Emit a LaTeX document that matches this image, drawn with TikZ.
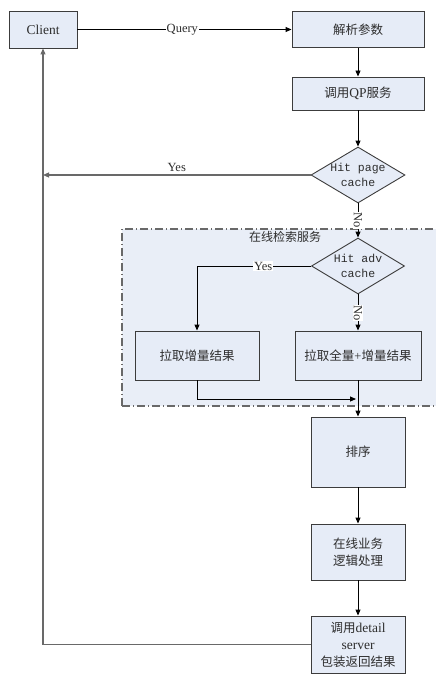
\documentclass[tikz,border=0pt]{standalone}
\usepackage{fontspec}
\setmainfont{Liberation Serif}
\newfontfamily\cjk{Noto Sans CJK SC}
\newfontfamily\monof{Liberation Mono}
\usetikzlibrary{shapes.geometric,arrows.meta}
\definecolor{boxfill}{RGB}{230,236,247}
\definecolor{areafill}{RGB}{233,238,247}
\definecolor{boxline}{RGB}{60,60,60}
\definecolor{txt}{RGB}{45,45,45}
\definecolor{retline}{RGB}{105,105,105}
\tikzset{
  box/.style={draw=boxline, fill=boxfill, line width=0.9pt, inner sep=1pt, align=center, text=txt,
    font=\fontsize{13.5}{17}\selectfont},
  cjkbox/.style={box, font=\cjk\fontsize{12.5}{17}\selectfont},
  decision/.style={diamond, draw=boxline, fill=boxfill, line width=0.9pt, inner sep=-3pt, aspect=1.68,
    align=center, text=txt, font=\monof\fontsize{11.5}{15}\selectfont},
  flow/.style={draw=black, line width=0.9pt, -{Triangle[length=6pt,width=5pt]}},
  retflow/.style={draw=retline, line width=1.1pt, -{Triangle[length=6pt,width=5pt]}},
  lbl/.style={fill=white, inner sep=1pt, text=txt, font=\fontsize{12.5}{14}\selectfont},
  areaedge/.style={draw=retline, line width=1.2pt, dash pattern=on 8pt off 3pt on 1pt off 3pt},
}
\begin{document}
\begin{tikzpicture}[x=1pt,y=-1pt]
\useasboundingbox (0,0) rectangle (436,685);
\clip (0,0) rectangle (436,685);
% container
\path[fill=areafill] (122,229) rectangle (436,406);
\draw[areaedge] (122,406) -- (122,229) -- (436,229);
\draw[areaedge] (122,406) -- (436,406);
\node[text=txt, font=\cjk\fontsize{12}{14}\selectfont] (area) at (285,237) {在线检索服务};
% nodes
\node[box, minimum width=68pt, minimum height=37pt] (client) at (43,29.5) {Client};
\node[cjkbox, minimum width=132pt, minimum height=36pt] (parse) at (358,29.5) {解析参数};
\node[box, minimum width=132pt, minimum height=33pt] (qp) at (358,93.5) {{\cjk\fontsize{12.5}{17}\selectfont 调用}QP{\cjk\fontsize{12.5}{17}\selectfont 服务}};
\node[decision, minimum width=94pt, minimum height=56pt] (d1) at (358,175) {Hit page\\cache};
\node[decision, minimum width=93pt, minimum height=56pt] (d2) at (358,266) {Hit adv\\cache};
\node[cjkbox, minimum width=124pt, minimum height=49pt] (inc) at (197,355.5) {拉取增量结果};
\node[cjkbox, minimum width=126pt, minimum height=49pt] (full) at (358,355.5) {拉取全量{\rmfamily +}增量结果};
\node[cjkbox, minimum width=94pt, minimum height=70pt] (sort) at (358,452) {排序};
\node[cjkbox, minimum width=94pt, minimum height=56pt] (biz) at (358,552) {在线业务\\逻辑处理};
\node[cjkbox, minimum width=94pt, minimum height=57pt] (detail) at (358,644.5) {调用{\rmfamily\fontsize{13.5}{17}\selectfont detail}\\{\rmfamily\fontsize{13.5}{17}\selectfont server}\\包装返回结果};
\coordinate (yesend) at (client.south |- d1.west);
\coordinate (merge) at (356,399);
% connectors
\draw[flow] (client.east) -- node[lbl, pos=0.49] {Query} (parse.west);
\draw[flow] (parse.south) -- (qp.north);
\draw[flow] (qp.south) -- (d1.north);
\draw[retflow] (d1.west) -- node[above=-1pt, pos=0.5, text=txt, font=\fontsize{12.5}{14}\selectfont] {Yes} (yesend);
\draw[flow] (d1.south) -- node[lbl, rotate=-90, pos=0.5, inner sep=0.5pt] {No} (d2.north);
\draw[flow] (d2.west) -| node[lbl, pos=0.21] {Yes} (inc.north);
\draw[flow] (d2.south) -- node[lbl, rotate=-90, pos=0.52, inner sep=0.5pt] {No} (full.north);
\draw[flow] (inc.south) |- (merge);
\draw[flow] (full.south) -- (sort.north);
\draw[flow] (sort.south) -- (biz.north);
\draw[flow] (biz.south) -- (detail.north);
\draw[retflow] (detail.west) -| (client.south);
\end{tikzpicture}
\end{document}
